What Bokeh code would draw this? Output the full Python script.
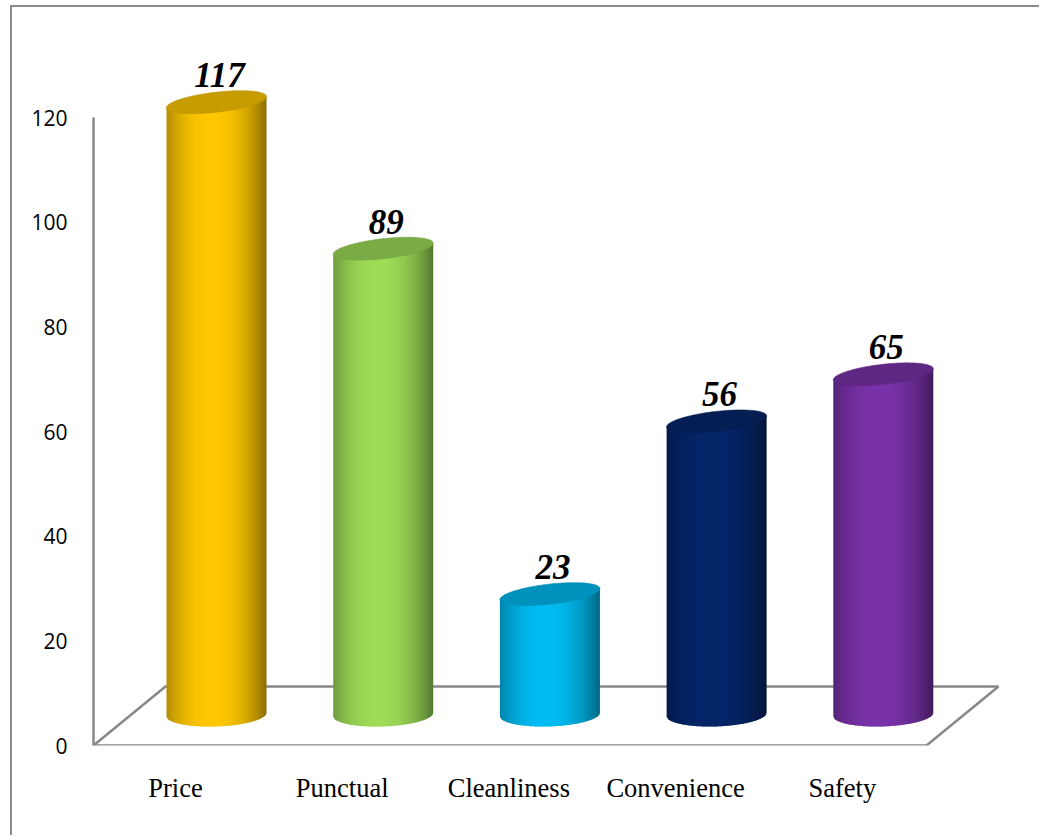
import numpy as np
from bokeh.plotting import figure
from bokeh.models import FixedTicker
from bokeh.core.properties import value
from bokeh.embed import file_html
from bokeh.resources import INLINE

# ---------------- data ----------------
categories = ["Price", "Punctual", "Cleanliness", "Convenience", "Safety"]
values = [117, 89, 23, 56, 65]
y_ticks = [0, 20, 40, 60, 80, 100, 120]

# ---------------- styles ----------------
body_colors = ["#FFC800", "#9EDC58", "#00BCF2", "#06266A", "#7A32AA"]
axis_grey = "#888888"

# pixel scales of the frame (used to express sizes in screen pixels)
PX_X = 166.7      # pixels per category unit
PX_Y = 628 / 120  # pixels per value unit

W, H = 1029, 830
p = figure(width=W, height=H, output_backend="svg", toolbar_location=None,
           x_range=(-0.492, 5.021), y_range=(0, 135.1),
           min_border_left=81, min_border_right=29, min_border_top=31,
           min_border_bottom=92, background_fill_color="white",
           border_fill_color="white", outline_line_color=None)
p.styles = {"border-left": "2px solid #8a8a8a", "border-top": "2px solid #8a8a8a"}
p.margin = (5, 0, 0, 10)
p.grid.visible = False

# y axis
ya = p.yaxis[0]
ya.ticker = FixedTicker(ticks=y_ticks)
ya.bounds = (0, 120)
ya.axis_line_color = axis_grey
ya.axis_line_width = 2.5
ya.major_tick_line_color = None
ya.minor_tick_line_color = None
ya.major_label_standoff = 20
ya.major_label_text_font = "Open Sans"
ya.major_label_text_font_size = "21px"
ya.major_label_text_color = "black"

# x axis (category labels)
xa = p.xaxis[0]
xa.ticker = FixedTicker(ticks=list(range(len(categories))))
xa.major_label_overrides = {i: c for i, c in enumerate(categories)}
xa.axis_line_color = None
xa.major_tick_line_color = None
xa.minor_tick_line_color = None
xa.major_label_standoff = 21
xa.major_label_text_font = "Liberation Serif"
xa.major_label_text_font_size = "26.5px"
xa.major_label_text_color = "black"

# ---------------- floor ----------------
n = len(categories)
depth_dx = 72 / PX_X
depth_dy = 59 / PX_Y
fx = [-0.5 + 0.008, n - 0.5 + 0.005, n - 0.5 + 0.005 + depth_dx, -0.5 + 0.008 + depth_dx]
fy = [0, 0, depth_dy, depth_dy]
p.patch(fx + [fx[0]], fy + [fy[0]], fill_color="white", line_color=axis_grey, line_width=2.5)

# ---------------- cylinders ----------------
def shade(hexc, f):
    h = hexc.lstrip("#")
    r, g, b = (int(h[i:i + 2], 16) for i in (0, 2, 4))
    return "#%02x%02x%02x" % (int(r * f), int(g * f), int(b * f))

a = 50 / PX_X               # half width in x units
base = depth_dy / 2 + 0.3   # cylinders stand at mid depth
shift = 0.5 * depth_dx + 0.03
tilt_top = 0.11 * PX_X / PX_Y
tilt_bot = 0.035 * PX_X / PX_Y
b_top = 10 / PX_Y
b_bot = 12 / PX_Y
NS = 60

def bottom_y(x):
    return base + x * tilt_bot - b_bot * np.sqrt(max(0.0, 1 - (x / a) ** 2))

for i, (v, col) in enumerate(zip(values, body_colors)):
    cx = i + shift
    top = base + v
    xs_list, ys_list, cols = [], [], []
    edges = np.linspace(-a, a, NS + 1)
    step = edges[1] - edges[0]
    for k in range(NS):
        x0 = edges[k]
        x1 = min(a, edges[k + 1] + 0.6 * step)   # overlap to hide seams
        t = (edges[k] + 0.5 * step + a) / (2 * a)
        d = 0.46 * (abs(t - 0.45) / 0.55) ** 2.2
        c = shade(col, 1 - d)
        sx = np.linspace(x0, x1, 4)
        bx = list(cx + sx)
        by = [bottom_y(s) for s in sx]
        xs_list.append(bx + [cx + x1, cx + x0])
        ys_list.append(by + [top + x1 * tilt_top, top + x0 * tilt_top])
        cols.append(c)
    p.patches(xs_list, ys_list, fill_color=cols, line_color=None)
    # top ellipse
    tt = np.linspace(0, 2 * np.pi, 120)
    ex = cx + a * np.cos(tt)
    ey = top + a * np.cos(tt) * tilt_top + b_top * np.sin(tt)
    p.patch(ex, ey, fill_color=shade(col, 0.78), line_color=shade(col, 0.74), line_width=0.6)

# value labels
p.text(x=[i + shift + 3 / PX_X for i in range(n)], y=[base + v + 27 / PX_Y for v in values],
       text=[str(v) for v in values], text_font=value("Liberation Serif"),
       text_font_style="bold italic", text_font_size="35px", text_color="black",
       text_align="center", text_baseline="alphabetic")

open("out.html", "w").write(file_html(p, INLINE))
